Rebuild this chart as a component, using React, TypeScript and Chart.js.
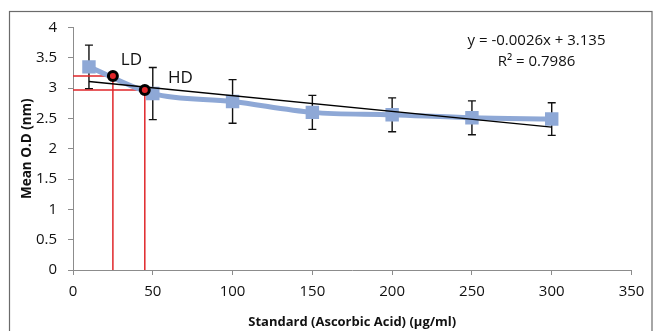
import React, { useEffect, useRef } from "react";
import { Chart, registerables } from "chart.js";

Chart.register(...registerables);

// ---- data ----
const concentrations = [10, 50, 100, 150, 200, 250, 300];
const meanOD = [3.35, 2.91, 2.78, 2.6, 2.56, 2.51, 2.49];
const errOD = [0.36, 0.43, 0.36, 0.28, 0.28, 0.28, 0.27];

const trendX = [10, 300];
const trendY = [3.109, 2.355];

const markLabels = ["LD", "HD"];
const markX = [25, 45];
const markY = [3.2, 2.97];
const markLabelX = [30, 59.5];
const markLabelY = [3.46, 3.16];

const xTicks = [0, 50, 100, 150, 200, 250, 300, 350];
const yTicks = [0, 0.5, 1, 1.5, 2, 2.5, 3, 3.5, 4];

const equationText = "y = -0.0026x + 3.135";
const r2Text = "R² = 0.7986";
const xTitle = "Standard (Ascorbic Acid) (µg/ml)";
const yTitle = "Mean O.D (nm)";

const FONT = "'Open Sans', 'DejaVu Sans', sans-serif";
const BLUE = "#8EA8D6";
const RED = "#E0262A";
const AXIS = "#8C8C8C";

const errorBarPlugin = {
  id: "errorBars",
  beforeDatasetsDraw(chart: any) {
    const { ctx, scales } = chart;
    const xs = scales.x;
    const ys = scales.y;
    ctx.save();
    ctx.strokeStyle = "#111";
    ctx.lineWidth = 1.4;
    concentrations.forEach((c, i) => {
      const px = xs.getPixelForValue(c);
      const top = ys.getPixelForValue(meanOD[i] + errOD[i]);
      const bot = ys.getPixelForValue(meanOD[i] - errOD[i]);
      ctx.beginPath();
      ctx.moveTo(px, top);
      ctx.lineTo(px, bot);
      ctx.moveTo(px - 4, top);
      ctx.lineTo(px + 4, top);
      ctx.moveTo(px - 4, bot);
      ctx.lineTo(px + 4, bot);
      ctx.stroke();
    });
    ctx.restore();
  },
};

const decorPlugin = {
  id: "decor",
  beforeDraw(chart: any) {
    const { ctx, width, height } = chart;
    ctx.save();
    ctx.fillStyle = "#fff";
    ctx.fillRect(0, 0, width, height);
    ctx.restore();
  },
  afterDraw(chart: any) {
    const { ctx, scales, chartArea } = chart;
    const xs = scales.x;
    const ys = scales.y;
    ctx.save();
    // outer frame
    ctx.strokeStyle = "#6b6b6b";
    ctx.lineWidth = 1.2;
    ctx.strokeRect(9.5, 11.5, 642.5, 330);
    // equation
    ctx.fillStyle = "#111";
    ctx.font = `15px ${FONT}`;
    ctx.textAlign = "center";
    ctx.textBaseline = "middle";
    const ex = chartArea.right - 95;
    ctx.fillText(equationText, ex, chartArea.top + 13);
    ctx.fillText(r2Text, ex, chartArea.top + 34);
    // LD / HD labels
    ctx.font = `17px ${FONT}`;
    ctx.textAlign = "left";
    markLabels.forEach((t, i) => {
      ctx.fillText(t, xs.getPixelForValue(markLabelX[i]), ys.getPixelForValue(markLabelY[i]));
    });
    ctx.restore();
  },
};

export default function App() {
  const ref = useRef<HTMLCanvasElement | null>(null);

  useEffect(() => {
    if (!ref.current) return;
    const redLines = markX.map((mx, i) => ({
      type: "line" as const,
      data: [
        { x: 0, y: markY[i] },
        { x: mx, y: markY[i] },
        { x: mx, y: 0 },
      ],
      borderColor: RED,
      borderWidth: 1.5,
      pointRadius: 0,
      tension: 0,
      fill: false,
      order: 4,
    }));

    const chart = new Chart(ref.current, {
      type: "line",
      data: {
        datasets: [
          {
            data: markX.map((mx, i) => ({ x: mx, y: markY[i] })),
            showLine: false,
            pointStyle: "circle",
            pointRadius: 4.5,
            pointBackgroundColor: RED,
            pointBorderColor: "#000",
            pointBorderWidth: 3,
            order: 0,
          },
          {
            data: trendX.map((x, i) => ({ x, y: trendY[i] })),
            borderColor: "#000",
            borderWidth: 1.3,
            pointRadius: 0,
            tension: 0,
            order: 1,
          },
          {
            data: concentrations.map((x, i) => ({ x, y: meanOD[i] })),
            borderColor: BLUE,
            borderWidth: 5,
            pointStyle: "rect",
            pointRadius: 9.5,
            pointBackgroundColor: BLUE,
            pointBorderColor: BLUE,
            pointBorderWidth: 0,
            cubicInterpolationMode: "monotone",
            order: 2,
          },
          ...redLines,
        ] as any,
      },
      options: {
        responsive: false,
        animation: false,
        devicePixelRatio: 1,
        layout: { padding: { left: 15, right: 21.5, top: 27.5, bottom: 0 } },
        plugins: {
          legend: { display: false },
          tooltip: { enabled: false },
        },
        scales: {
          x: {
            type: "linear",
            min: 0,
            max: 350,
            afterBuildTicks: (s: any) => {
              s.ticks = xTicks.map((v) => ({ value: v }));
            },
            afterFit: (s: any) => {
              s.height = 61;
            },
            grid: {
              drawOnChartArea: false,
              drawTicks: true,
              tickLength: 5,
              color: AXIS,
            },
            border: { display: true, color: AXIS, width: 1 },
            ticks: {
              color: "#111",
              padding: 8,
              maxRotation: 0,
              callback: (v: any) => String(v),
              font: { family: FONT, size: 15 },
            },
            title: {
              display: true,
              text: xTitle,
              color: "#111",
              padding: { top: 0, bottom: 1 },
              font: { family: FONT, size: 13, weight: "bold" },
            },
          },
          y: {
            type: "linear",
            min: 0,
            max: 4,
            afterBuildTicks: (s: any) => {
              s.ticks = yTicks.map((v) => ({ value: v }));
            },
            afterFit: (s: any) => {
              s.width = 58;
            },
            grid: {
              drawOnChartArea: false,
              drawTicks: true,
              tickLength: 5,
              color: AXIS,
            },
            border: { display: true, color: AXIS, width: 1 },
            ticks: {
              color: "#111",
              padding: 11,
              callback: (v: any) => String(v),
              font: { family: FONT, size: 15 },
            },
            title: {
              display: true,
              text: yTitle,
              color: "#111",
              padding: { top: 4, bottom: 0 },
              font: { family: FONT, size: 13.5, weight: "bold" },
            },
          },
        },
      } as any,
      plugins: [errorBarPlugin, decorPlugin],
    });
    return () => chart.destroy();
  }, []);

  return (
    <div style={{ position: "fixed", left: 0, top: 0, width: 653, height: 331, background: "#fff" }}>
      <canvas ref={ref} width={653} height={331} style={{ display: "block" }} />
    </div>
  );
}
